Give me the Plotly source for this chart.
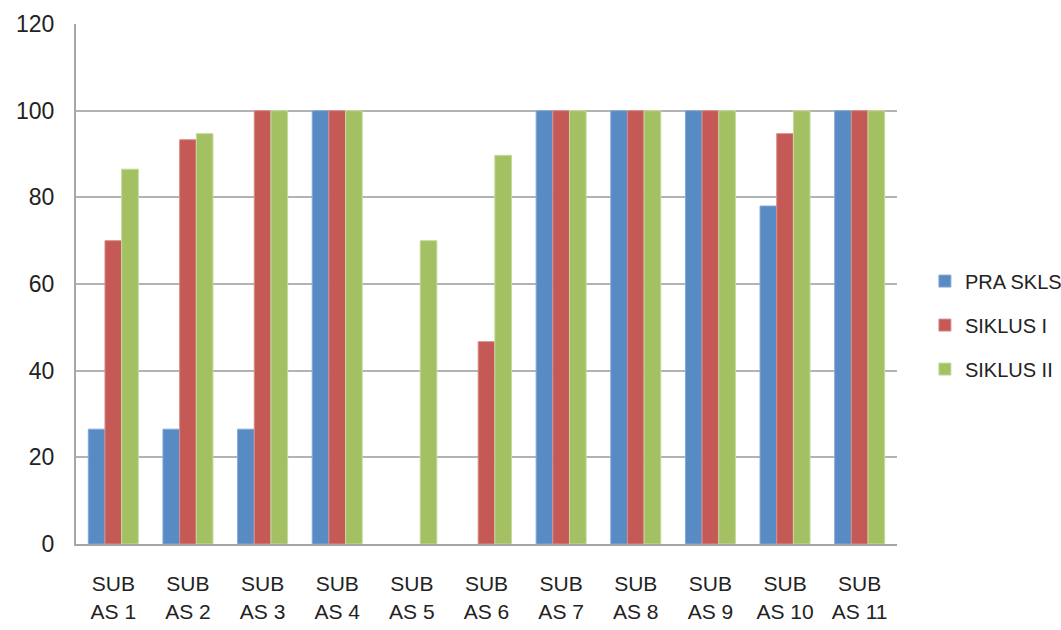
import plotly.graph_objects as go

categories = ["SUB<br>AS 1", "SUB<br>AS 2", "SUB<br>AS 3", "SUB<br>AS 4", "SUB<br>AS 5",
              "SUB<br>AS 6", "SUB<br>AS 7", "SUB<br>AS 8", "SUB<br>AS 9", "SUB<br>AS 10",
              "SUB<br>AS 11"]
pra_skls = [26.5, 26.5, 26.5, 100, 0, 0, 100, 100, 100, 78, 100]
siklus_1 = [70, 93.3, 100, 100, 0, 46.7, 100, 100, 100, 94.7, 100]
siklus_2 = [86.5, 94.7, 100, 100, 70, 89.7, 100, 100, 100, 100, 100]

series = [
    ("PRA SKLS", pra_skls, "#588AC4", "#86A9D6"),
    ("SIKLUS I", siklus_1, "#C45956", "#DA8E8C"),
    ("SIKLUS II", siklus_2, "#A3C063", "#C6DA9E"),
]

fig = go.Figure()
for name, vals, col, edge in series:
    fig.add_trace(go.Bar(
        x=categories, y=vals, name=name, legendgroup=name,
        marker=dict(color=col,
                    line=dict(color=edge, width=[1 if v > 0 else 0 for v in vals])),
    ))

font_family = "Liberation Sans, Arial, sans-serif"
fig.update_layout(
    width=1061, height=630,
    margin=dict(l=76, r=164, t=24, b=86, autoexpand=False),
    paper_bgcolor="white", plot_bgcolor="white",
    barmode="group", bargap=0.33, bargroupgap=0,
    font=dict(family=font_family, size=20, color="#222222"),
    showlegend=True,
    legend=dict(
        x=1.034, y=0.421, xanchor="left", yanchor="middle",
        xref="paper", yref="paper",
        font=dict(size=20, color="#222222"),
        itemwidth=30, tracegroupgap=15,
        bgcolor="rgba(0,0,0,0)",
    ),
    xaxis=dict(
        showline=True, linecolor="#A6A6A6", linewidth=2,
        ticks="", tickfont=dict(size=21),
        ticklabelstandoff=20,
    ),
    yaxis=dict(
        range=[0, 120], dtick=20,
        showgrid=True, gridcolor="#B3B3B3", gridwidth=2,
        showline=True, linecolor="#A6A6A6", linewidth=2,
        zeroline=False,
        ticks="", tickfont=dict(size=23),
        ticklabelstandoff=15,
    ),
)

fig.write_html("out.html")
